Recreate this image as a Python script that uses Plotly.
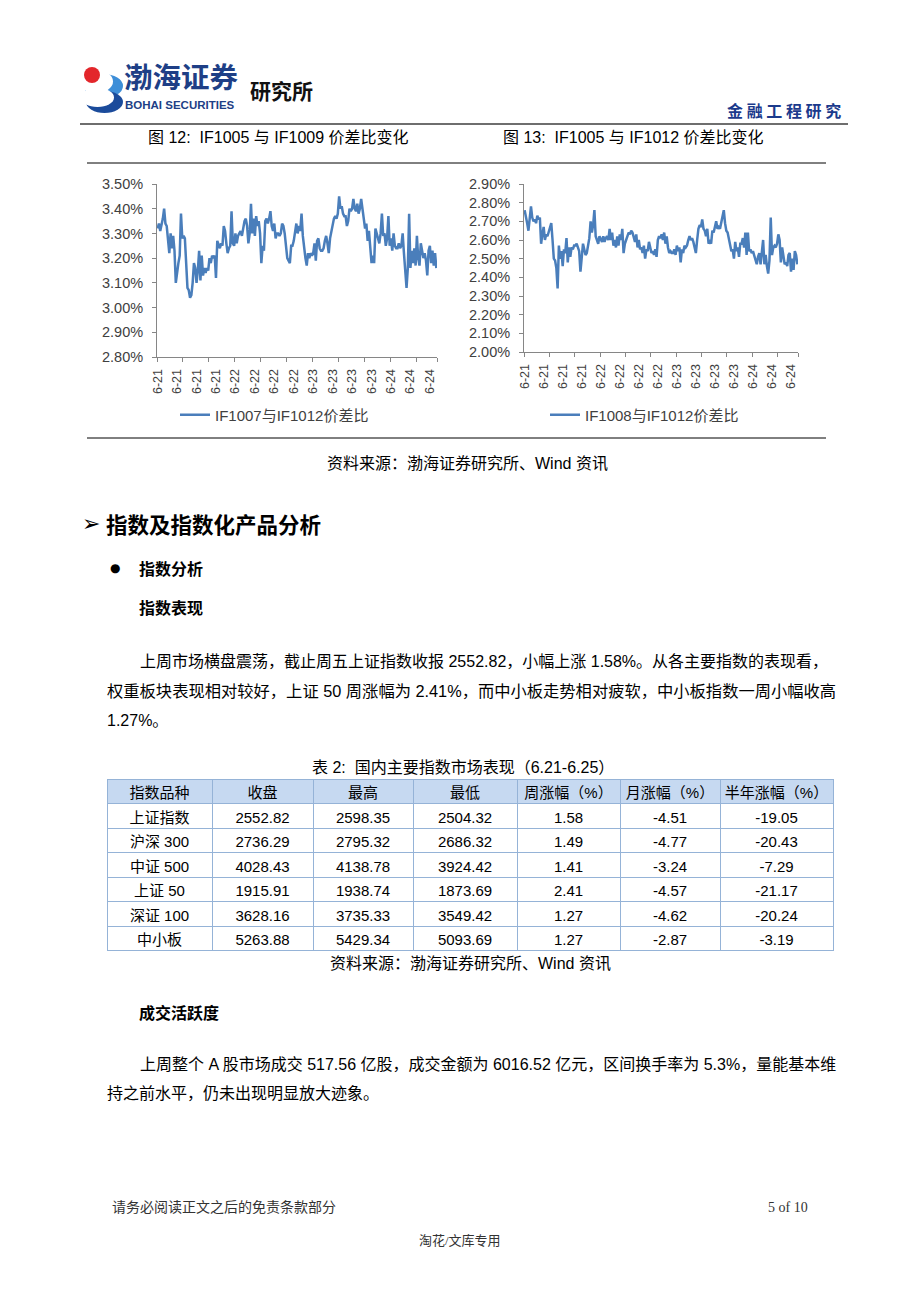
import plotly.graph_objects as go

W, H = 920, 1302
CN = "Liberation Sans, Noto Sans CJK SC"
SERIF = "Liberation Serif, Noto Sans CJK SC"
AXIS_FONT = "Liberation Sans, Noto Sans CJK SC"

# ---- chart data (5-minute spread ratio, %) ----
day_labels = ["6-21"] * 4 + ["6-22"] * 4 + ["6-23"] * 4 + ["6-24"] * 3

spread_1007_1012 = [
    3.32, 3.34, 3.31, 3.33, 3.36, 3.40,
    3.34, 3.33, 3.26, 3.22, 3.30, 3.24, 3.29, 3.23,
    3.10, 3.15, 3.18, 3.21,
    3.38, 3.28, 3.29, 3.28, 3.20,
    3.08, 3.07, 3.04, 3.05, 3.10,
    3.18, 3.16, 3.10, 3.15, 3.23, 3.11,
    3.21, 3.13, 3.16, 3.14, 3.16, 3.15, 3.20, 3.18, 3.21, 3.20, 3.21,
    3.12,
    3.27, 3.25, 3.24, 3.26, 3.25, 3.33,
    3.31, 3.26, 3.22, 3.24, 3.25,
    3.39,
    3.26, 3.25, 3.30, 3.26, 3.29, 3.30, 3.31, 3.29, 3.33, 3.35,
    3.36, 3.33, 3.26, 3.30,
    3.42, 3.30, 3.36, 3.29, 3.37, 3.33, 3.35, 3.30,
    3.18, 3.25, 3.23, 3.35, 3.36, 3.34, 3.36,
    3.39, 3.33, 3.31, 3.34, 3.28, 3.30, 3.30, 3.29, 3.30, 3.34, 3.33, 3.30, 3.24, 3.20, 3.19,
    3.18, 3.25, 3.25, 3.27, 3.31, 3.34, 3.30, 3.33, 3.31, 3.38,
    3.29, 3.24, 3.20, 3.17,
    3.22, 3.20, 3.22, 3.21, 3.22, 3.26, 3.19, 3.27, 3.28, 3.24,
    3.23, 3.23, 3.24, 3.27, 3.29, 3.26, 3.22, 3.28, 3.31, 3.33,
    3.36, 3.37, 3.36, 3.38, 3.45,
    3.40, 3.41, 3.38, 3.37, 3.37, 3.33, 3.35, 3.40, 3.39, 3.40, 3.44,
    3.40, 3.39, 3.42, 3.38, 3.40, 3.44,
    3.40, 3.35, 3.32, 3.34, 3.27, 3.31, 3.22, 3.18,
    3.21, 3.18, 3.32,
    3.30, 3.29, 3.26, 3.30, 3.38,
    3.29, 3.30, 3.25, 3.28, 3.37,
    3.25, 3.28, 3.23, 3.30, 3.25, 3.24, 3.24, 3.26, 3.24, 3.25, 3.30, 3.22, 3.15, 3.08,
    3.16, 3.38,
    3.16, 3.23, 3.18, 3.24, 3.17, 3.29, 3.20, 3.17, 3.26, 3.23, 3.20, 3.22, 3.19,
    3.13,
    3.23, 3.25, 3.18, 3.23, 3.17, 3.22, 3.16,
]

spread_1008_1012 = [
    2.76, 2.73, 2.69, 2.65, 2.72, 2.78, 2.72, 2.70, 2.71, 2.69,
    2.73, 2.71, 2.72, 2.58, 2.63, 2.67, 2.60, 2.63, 2.62, 2.64,
    2.67, 2.69, 2.60, 2.50, 2.49, 2.45, 2.34, 2.57, 2.50, 2.54,
    2.46, 2.55, 2.53, 2.61, 2.48, 2.56, 2.51, 2.56, 2.55, 2.57,
    2.57, 2.58, 2.56, 2.54, 2.43, 2.52, 2.58, 2.55, 2.52, 2.53,
    2.57, 2.61, 2.70, 2.64, 2.68, 2.76, 2.62, 2.60, 2.58, 2.62,
    2.60, 2.59, 2.62, 2.59, 2.61, 2.62, 2.60,
    2.66, 2.60, 2.64, 2.57, 2.60,
    2.56, 2.62, 2.57, 2.63, 2.60, 2.66, 2.53, 2.58, 2.60, 2.62,
    2.64, 2.63, 2.65, 2.64, 2.62, 2.59, 2.63, 2.56, 2.60, 2.55, 2.56, 2.53,
    2.57, 2.50, 2.55, 2.54, 2.59, 2.55, 2.53, 2.54, 2.52, 2.55,
    2.51, 2.60, 2.62, 2.61, 2.63, 2.60, 2.64, 2.58, 2.62, 2.56,
    2.53, 2.54, 2.53, 2.53, 2.55, 2.52, 2.57, 2.54, 2.56, 2.48,
    2.55, 2.53, 2.57, 2.56, 2.57, 2.60, 2.62, 2.60, 2.61, 2.59, 2.55,
    2.53, 2.60, 2.66, 2.68, 2.67, 2.71, 2.66, 2.65, 2.62, 2.66,
    2.58, 2.60, 2.58, 2.65, 2.64, 2.67,
    2.70, 2.66, 2.67, 2.66, 2.70,
    2.72, 2.76, 2.69, 2.65, 2.64, 2.60, 2.56, 2.54, 2.55, 2.50,
    2.59, 2.54, 2.56, 2.51, 2.58, 2.58,
    2.61, 2.56, 2.64, 2.52, 2.64,
    2.54, 2.55, 2.53, 2.54, 2.52, 2.50,
    2.47, 2.51, 2.53, 2.47, 2.54,
    2.60, 2.47, 2.52, 2.46, 2.42, 2.49, 2.72, 2.52, 2.56, 2.57,
    2.56, 2.58, 2.63, 2.60, 2.48, 2.56, 2.52, 2.47, 2.48, 2.46,
    2.52, 2.53, 2.43, 2.50, 2.44, 2.54, 2.52, 2.47,
]

assert len(spread_1007_1012) == 216, len(spread_1007_1012)
assert len(spread_1008_1012) == 216, len(spread_1008_1012)

# ---- table data ----
table_header = ["指数品种", "收盘", "最高", "最低", "周涨幅（%）", "月涨幅（%）", "半年涨幅（%）"]
index_names = ["上证指数", "沪深 300", "中证 500", "上证 50", "深证 100", "中小板"]
close_px = [2552.82, 2736.29, 4028.43, 1915.91, 3628.16, 5263.88]
high_px = [2598.35, 2795.32, 4138.78, 1938.74, 3735.33, 5429.34]
low_px = [2504.32, 2686.32, 3924.42, 1873.69, 3549.42, 5093.69]
week_chg = [1.58, 1.49, 1.41, 2.41, 1.27, 1.27]
month_chg = [-4.51, -4.77, -3.24, -4.57, -4.62, -2.87]
half_year_chg = [-19.05, -20.43, -7.29, -21.17, -20.24, -3.19]


def px_x(x):
    return x / W


def px_y(y):
    return 1 - y / H


def add_text(fig, x, y, s, size, family=CN, color="#000000", anchor="left", bold=False,
             valign="middle"):
    fig.add_annotation(
        x=px_x(x), y=px_y(y), xref="paper", yref="paper",
        text=f"<b>{s}</b>" if bold else s, showarrow=False,
        xanchor=anchor, yanchor=valign, borderpad=0,
        font=dict(size=size, family=family, color=color),
    )


def add_line(fig, x0, y0, x1, y1, color="#000000", width=1):
    fig.add_shape(type="line", xref="paper", yref="paper",
                  x0=px_x(x0), y0=px_y(y0), x1=px_x(x1), y1=px_y(y1),
                  line=dict(color=color, width=width))


def add_ellipse(fig, x0, y0, x1, y1, color):
    fig.add_shape(type="circle", xref="paper", yref="paper",
                  x0=px_x(x0), y0=px_y(y0), x1=px_x(x1), y1=px_y(y1),
                  fillcolor=color, line=dict(width=0))


fig = go.Figure()

# ---- two line charts ----
LINE_BLUE = "#4A7EBB"
xs = list(range(216))
fig.add_trace(go.Scatter(x=xs, y=spread_1007_1012, mode="lines", name="IF1007与IF1012价差比",
                         line=dict(color=LINE_BLUE, width=2.5), xaxis="x", yaxis="y",
                         legend="legend"))
fig.add_trace(go.Scatter(x=xs, y=spread_1008_1012, mode="lines", name="IF1008与IF1012价差比",
                         line=dict(color=LINE_BLUE, width=2.5), xaxis="x2", yaxis="y2",
                         legend="legend2"))

label_pos = [i * 15 for i in range(len(day_labels))]
tick_pos = [i * 20 - 0.5 for i in range(11)] + [215.5]


def xaxis_cfg(x0, x1, anchor):
    return dict(
        domain=[px_x(x0), px_x(x1)], anchor=anchor, range=[-0.5, 215.5],
        tickmode="array", tickvals=label_pos, ticktext=day_labels, tickangle=-90,
        ticks="", showgrid=False, zeroline=False, showline=True, linecolor="#868686",
        tickfont=dict(size=12.5, family=AXIS_FONT, color="#404040"),
        ticklabelstandoff=6, automargin=False,
        minor=dict(tickmode="array", tickvals=tick_pos, ticks="outside", ticklen=4,
                   tickcolor="#868686", showgrid=False),
        fixedrange=True,
    )


def yaxis_cfg(ytop, ybot, lo, hi, anchor):
    return dict(
        domain=[px_y(ybot), px_y(ytop)], anchor=anchor, range=[lo, hi],
        tickmode="linear", tick0=lo, dtick=0.1, tickformat=".2f", ticksuffix="%",
        ticks="outside", ticklen=4, tickcolor="#868686",
        showgrid=False, zeroline=False, showline=True, linecolor="#868686",
        tickfont=dict(size=14.5, family=AXIS_FONT, color="#404040"),
        ticklabelstandoff=6, automargin=False,
        fixedrange=True,
    )


legend_font = dict(size=15, family=AXIS_FONT, color="#404040")
fig.update_layout(
    xaxis=xaxis_cfg(157, 437, "y"),
    yaxis=yaxis_cfg(184, 357, 2.80, 3.50, "x"),
    xaxis2=xaxis_cfg(524, 798, "y2"),
    yaxis2=yaxis_cfg(184, 352, 2.00, 2.90, "x2"),
    legend=dict(x=px_x(175), y=px_y(415), xanchor="left", yanchor="middle",
                orientation="h", font=legend_font, bgcolor="rgba(0,0,0,0)"),
    legend2=dict(x=px_x(545), y=px_y(415), xanchor="left", yanchor="middle",
                 orientation="h", font=legend_font, bgcolor="rgba(0,0,0,0)"),
)

# ---- table ----
fig.add_trace(go.Table(
    domain=dict(x=[px_x(107), px_x(833)], y=[px_y(955), px_y(779)]),
    columnwidth=[105, 101, 100, 104, 103, 100, 113],
    header=dict(values=table_header, fill_color="#C6D9F1", line=dict(color="#95B3D7", width=1),
                height=24.5, align="center", font=dict(size=15, family=CN, color="#000000")),
    cells=dict(values=[index_names,
                       [f"{v:.2f}" for v in close_px],
                       [f"{v:.2f}" for v in high_px],
                       [f"{v:.2f}" for v in low_px],
                       [f"{v:.2f}" for v in week_chg],
                       [f"{v:.2f}" for v in month_chg],
                       [f"{v:.2f}" for v in half_year_chg]],
               fill_color="#FFFFFF", line=dict(color="#95B3D7", width=1),
               height=24.5, align="center", font=dict(size=15, family=CN, color="#000000")),
))

# ---- page header / logo ----
add_ellipse(fig, 84, 74, 123, 98, "#3D8ED8")
add_ellipse(fig, 79, 70, 113, 93, "#FFFFFF")
add_ellipse(fig, 86, 91, 123, 113, "#1B4B9B")
add_ellipse(fig, 81, 88, 114, 107, "#FFFFFF")
add_ellipse(fig, 84, 67, 100, 83, "#E3262B")
add_text(fig, 123, 97, "渤海证券", 28.5, family="Noto Sans CJK SC", color="#1E3F86", bold=True,
         valign="bottom")
add_text(fig, 124, 98, "BOHAI SECURITIES", 11.5, family="Liberation Sans", color="#1E3F86", bold=True,
         valign="top")
add_text(fig, 249, 90, "研究所", 21, family="Noto Sans CJK SC", color="#111111", bold=True)
add_text(fig, 842, 110, "金 融 工 程 研 究", 16, family="Noto Sans CJK SC", color="#1B3A8C",
         anchor="right", bold=True)
add_line(fig, 80, 124, 848, 124, color="#6E6E6E", width=2)

# ---- chart titles / frame ----
add_text(fig, 278, 138, "图 12:  IF1005 与 IF1009 价差比变化", 16, anchor="center")
add_text(fig, 633, 138, "图 13:  IF1005 与 IF1012 价差比变化", 16, anchor="center")
add_line(fig, 87, 163, 826, 163)
add_line(fig, 87, 438, 826, 438)
add_text(fig, 467, 463, "资料来源：渤海证券研究所、Wind 资讯", 16, anchor="center")

# ---- section text ----
add_text(fig, 91, 523, "➢", 22, family="DejaVu Sans", anchor="center")
add_text(fig, 105, 523, "指数及指数化产品分析", 21.5, family="Noto Sans CJK SC", bold=True)
add_text(fig, 115, 568, "●", 12, family="DejaVu Sans", anchor="center")
add_text(fig, 138, 568, "指数分析", 16, family="Noto Sans CJK SC", bold=True)
add_text(fig, 138, 607, "指数表现", 16, family="Noto Sans CJK SC", bold=True)

add_text(fig, 139, 661, "上周市场横盘震荡，截止周五上证指数收报 2552.82，小幅上涨 1.58%。从各主要指数的表现看，", 16)
add_text(fig, 106, 691, "权重板块表现相对较好，上证 50 周涨幅为 2.41%，而中小板走势相对疲软，中小板指数一周小幅收高", 16.3)
add_text(fig, 106, 721, "1.27%。", 16)

add_text(fig, 463, 767, "表 2:  国内主要指数市场表现（6.21-6.25）", 16, anchor="center")
add_text(fig, 470, 963, "资料来源：渤海证券研究所、Wind 资讯", 16, anchor="center")

add_text(fig, 138, 1012, "成交活跃度", 16, family="Noto Sans CJK SC", bold=True)
add_text(fig, 139, 1064, "上周整个 A 股市场成交 517.56 亿股，成交金额为 6016.52 亿元，区间换手率为 5.3%，量能基本维", 16)
add_text(fig, 106, 1093, "持之前水平，仍未出现明显放大迹象。", 16)

# ---- footer ----
add_text(fig, 111, 1207, "请务必阅读正文之后的免责条款部分", 14, family=SERIF, color="#333333")
add_text(fig, 809, 1207, "5 of 10", 14, family=SERIF, color="#333333", anchor="right")
add_text(fig, 460, 1240, "淘花/文库专用", 13, family=SERIF, color="#333333", anchor="center")

fig.update_layout(
    width=W, height=H, margin=dict(l=0, r=0, t=0, b=0, autoexpand=False),
    paper_bgcolor="#FFFFFF", plot_bgcolor="#FFFFFF",
    showlegend=True,
)

# page body has a default 8px margin; drop it so the figure sits at the window origin
fig.write_html("out.html", config={"displayModeBar": False},
               post_script="document.body.style.margin='0';")
